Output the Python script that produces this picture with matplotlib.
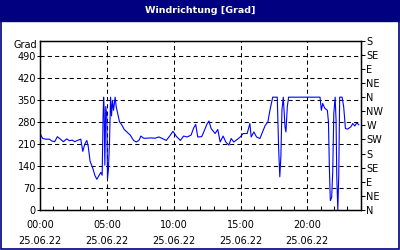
import matplotlib
matplotlib.use("Agg")
import matplotlib.pyplot as plt
from matplotlib.patches import Rectangle
from matplotlib.ticker import MultipleLocator, FixedLocator

title = "Windrichtung [Grad]"
hours = [0.0, 0.2, 0.45, 0.7, 0.9, 1.1, 1.3, 1.55, 1.75, 2.0, 2.2, 2.4, 2.6, 2.8, 3.05, 3.13,
         3.2, 3.35, 3.5, 3.6, 3.75, 3.95, 4.1, 4.25, 4.45, 4.55, 4.65, 4.72, 4.76, 4.8, 4.85,
         4.92, 5.0, 5.05, 5.12, 5.2, 5.28, 5.35, 5.42, 5.5, 5.62, 5.7, 5.85, 5.95, 6.1, 6.3,
         6.5, 6.75, 7.0, 7.2, 7.4, 7.55, 7.75, 8.0, 8.3, 8.6, 8.9, 9.2, 9.45, 9.7, 9.95, 10.2,
         10.5, 10.75, 11.0, 11.3, 11.5, 11.65, 11.8, 12.1, 12.3, 12.5, 12.64, 12.8, 13.1, 13.3,
         13.48, 13.7, 13.9, 14.13, 14.3, 14.5, 14.75, 14.98, 15.2, 15.5, 15.7, 15.8, 16.0, 16.2,
         16.45, 16.6, 16.85, 17.05, 17.2, 17.41, 17.75, 17.85, 17.94, 18.02, 18.1, 18.2, 18.33,
         18.4, 18.5, 18.6, 20.95, 21.05, 21.15, 21.3, 21.5, 21.58, 21.65, 21.72, 21.82, 21.9,
         21.98, 22.08, 22.15, 22.2, 22.28, 22.35, 22.42, 22.6, 22.72, 22.85, 23.0, 23.25, 23.4,
         23.55, 23.7, 23.85]
values = [244, 228, 226, 226, 220, 218, 234, 225, 218, 227, 221, 223, 218, 222, 226, 205,
          187, 210, 222, 205, 155, 133, 111, 98, 113, 120, 111, 297, 360, 320, 143,
          330, 300, 100, 130, 217, 360, 300, 350, 318, 360, 330, 300, 281, 273, 257,
          249, 239, 222, 217, 222, 236, 229, 229, 230, 229, 233, 227, 222, 236, 251, 235,
          222, 236, 233, 239, 262, 273, 233, 234, 254, 275, 284, 260, 244, 257,
          217, 236, 217, 207, 228, 217, 225, 233, 244, 244, 276, 233, 249, 233,
          228, 244, 270, 281, 318, 360, 360, 201, 106, 170, 318, 360, 265,
          249, 329, 360, 360, 318, 340, 325, 318, 281, 133, 30, 40, 122,
          308, 360, 286, 111, 0, 111, 360, 360, 329, 260, 258, 265, 276,
          268, 278, 272]
left_ticks = [0, 70, 140, 210, 280, 350, 420, 490]
right_ticks = [0, 45, 90, 135, 180, 225, 270, 315, 360, 405, 450, 495, 540]
right_labels = ["N", "NE", "E", "SE", "S", "SW", "W", "NW", "N", "NE", "E", "SE", "S"]
x_ticks = [0, 5, 10, 15, 20]
x_labels = ["00:00\n25.06.22", "05:00\n25.06.22", "10:00\n25.06.22", "15:00\n25.06.22", "20:00\n25.06.22"]

navy = "#000080"
fig = plt.figure(figsize=(4, 2.5), dpi=100)
fig.patch.set_facecolor("white")
# outer frame and title bar
fig.patches.append(Rectangle((0.002, 0.003), 0.996, 0.994, transform=fig.transFigure,
                             fill=False, edgecolor=navy, linewidth=1.2))
fig.patches.append(Rectangle((0, 1 - 21 / 250), 1, 21 / 250, transform=fig.transFigure,
                             facecolor=navy, edgecolor=navy))
fig.text(0.5, 1 - 10.5 / 250, title, color="white", fontsize=6.8, fontweight="bold",
         ha="center", va="center", family="DejaVu Sans")

ax = fig.add_axes([0.1, 0.16, 0.802, 0.677])
ax.plot(hours, values, color="#0000ff", linewidth=0.8)
ax.set_xlim(0, 24)
ax.set_ylim(0, 540)
ax.yaxis.set_major_locator(FixedLocator(left_ticks))
ax.xaxis.set_major_locator(FixedLocator(x_ticks))
ax.set_xticklabels(x_labels, linespacing=1.8)
ax.xaxis.set_minor_locator(MultipleLocator(1))
for v in left_ticks[1:]:
    ax.axhline(v, color="black", linestyle=(0, (4, 3)), linewidth=0.75, zorder=1)
for v in x_ticks[1:]:
    ax.axvline(v, color="black", linestyle=(0, (4, 3)), linewidth=0.75, zorder=1)
ax.tick_params(axis="x", which="both", direction="in", length=3, width=0.75, labelsize=7, pad=7)
ax.tick_params(axis="y", direction="out", length=2, width=0.75, labelsize=7, pad=1)
for s in ax.spines.values():
    s.set_linewidth(1)
    s.set_color("black")

ax2 = ax.twinx()
ax2.set_ylim(0, 540)
ax2.yaxis.set_major_locator(FixedLocator(right_ticks))
ax2.set_yticklabels(right_labels)
ax2.tick_params(axis="y", direction="out", length=3, width=0.75, labelsize=7, pad=1)

fig.text(37 / 400, 1 - 45 / 250, "Grad", fontsize=7, ha="right", va="center")

fig.savefig("out.png", dpi=100, facecolor="white")
